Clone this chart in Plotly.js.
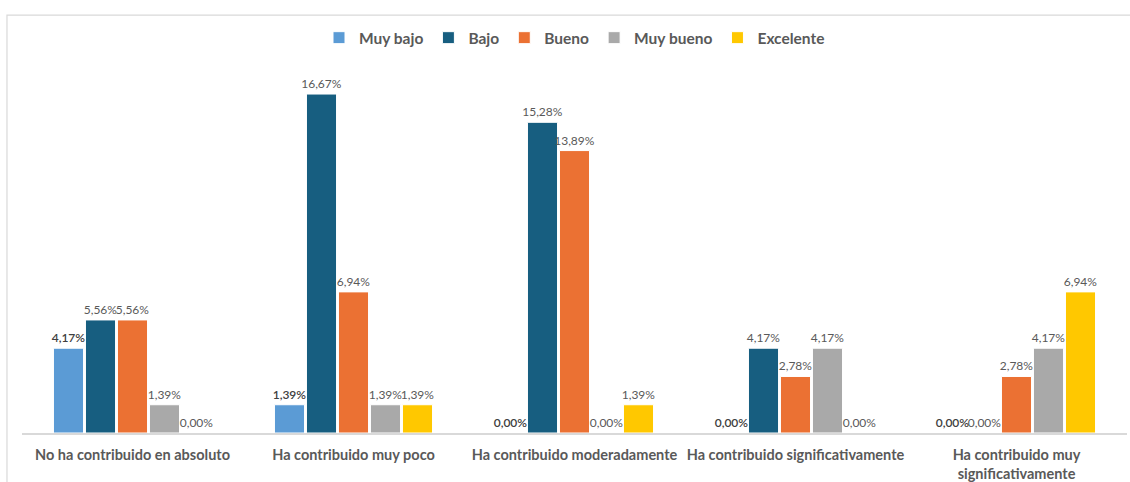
<!DOCTYPE html>
<html>
<head>
<meta charset="utf-8">
<script src="https://cdn.plot.ly/plotly-3.0.1.min.js"></script>
<style>html,body{margin:0;padding:0;background:#fff;}#chart{width:1130px;height:482px;}</style>
</head>
<body>
<div id="chart"></div>
<script>
var categories = ["No ha contribuido en absoluto", "Ha contribuido muy poco", "Ha contribuido moderadamente", "Ha contribuido significativamente", "Ha contribuido muy<br>significativamente"];
var seriesNames = ["Muy bajo", "Bajo", "Bueno", "Muy bueno", "Excelente"];
var muyBajo = [4.17, 1.39, 0.00, 0.00, 0.00];
var bajo = [5.56, 16.67, 15.28, 4.17, 0.00];
var bueno = [5.56, 6.94, 13.89, 2.78, 2.78];
var muyBueno = [1.39, 1.39, 0.00, 4.17, 4.17];
var excelente = [0.00, 1.39, 1.39, 0.00, 6.94];
var colors = ["#5B9BD5", "#175E80", "#EB7133", "#A9A9A9", "#FFC800"];
var labelColors = ["#404040", "#595959", "#595959", "#595959", "#595959"];

var allSeries = [muyBajo, bajo, bueno, muyBueno, excelente];
function fmt(v){ return v.toFixed(2).replace('.', ',') + '%'; }

var traces = allSeries.map(function(vals, i){
  return {
    type: 'bar',
    name: seriesNames[i],
    x: categories,
    y: vals,
    text: vals.map(fmt),
    textposition: 'outside',
    constraintext: 'none',
    cliponaxis: false,
    textfont: {family: 'Lato, sans-serif', size: 12, color: labelColors[i], weight: i === 0 ? 600 : 400},
    marker: {color: colors[i], line: {color: '#ffffff', width: 1}},
    hoverinfo: 'none'
  };
});

var layout = {
  width: 1130,
  height: 482,
  margin: {l: 22, r: 3, t: 67, b: 49},
  paper_bgcolor: '#ffffff',
  plot_bgcolor: '#ffffff',
  barmode: 'group',
  bargap: 0.276,
  bargroupgap: 0.06,
  showlegend: true,
  legend: {
    orientation: 'h', x: 0.5, xanchor: 'center', y: 1.079, yanchor: 'middle',
    font: {family: 'Lato, sans-serif', size: 15.5, color: '#595959', weight: 700},
    itemwidth: 30, tracegroupgap: 0
  },
  xaxis: {
    showline: true, linecolor: '#D9D9D9', linewidth: 1.5,
    showgrid: false, zeroline: false, ticks: '',
    ticklabelstandoff: 8,
    tickfont: {family: 'Lato, sans-serif', size: 14.5, color: '#595959', weight: 700},
    fixedrange: true
  },
  yaxis: {
    range: [0, 18], visible: false, showgrid: false, zeroline: false, fixedrange: true
  },
  shapes: [{
    type: 'rect', xref: 'paper', yref: 'paper',
    x0: -0.0136, x1: 1.02, y0: -0.2, y1: 1.142,
    line: {color: '#D9D9D9', width: 1.2}, fillcolor: 'rgba(0,0,0,0)', layer: 'below'
  }]
};

Plotly.newPlot('chart', traces, layout, {displayModeBar: false, staticPlot: true});
</script>
</body>
</html>
